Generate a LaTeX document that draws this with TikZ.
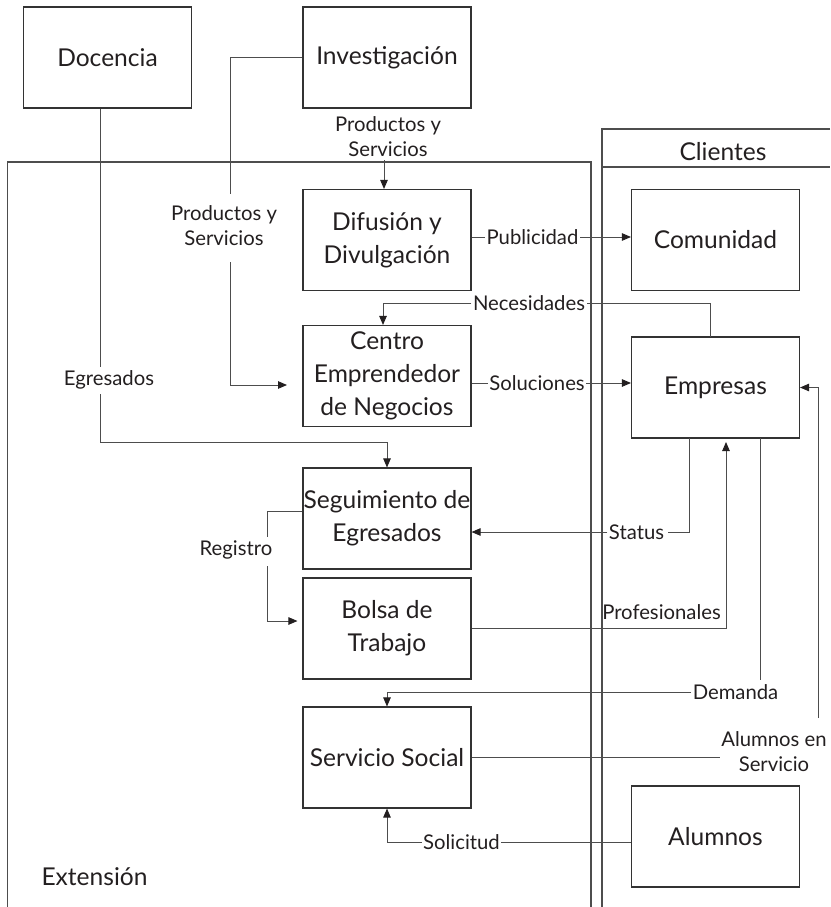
\documentclass[tikz,border=0pt]{standalone}
\usepackage{fontspec}
\setmainfont{Lato}
\usetikzlibrary{arrows.meta}
\definecolor{txtc}{HTML}{231F20}
\definecolor{boxc}{HTML}{333333}
\definecolor{linec}{HTML}{4D4D4D}
\newlength\mywa
\newlength\mywb
\newcommand\bigfont{\fontsize{\bigsz pt}{33pt}\selectfont}
\newcommand\smallfont{\fontsize{\smallsz pt}{25pt}\selectfont}
\begin{document}
\settowidth\mywa{\fontsize{10pt}{12pt}\selectfont Docencia}%
\settowidth\mywb{\fontsize{10pt}{12pt}\selectfont Necesidades}%
\pgfmathsetmacro\bigsz{0.93*1080/\mywa}%
\pgfmathsetmacro\smallsz{1120/\mywb}%
\begin{tikzpicture}[x=1pt,y=-1pt,
  box/.style={draw=boxc, line width=1.1pt, minimum width=168pt, minimum height=101pt, inner sep=0pt, align=center, font=\bigfont, text=txtc},
  lbl/.style={inner sep=1.5pt, align=center, font=\smallfont, text=txtc},
  con/.style={draw=linec, line width=0.9pt},
  arr/.style={con, -{Triangle[length=9pt,width=7.5pt,color=txtc]}},
  frm/.style={draw=linec, line width=1.1pt}]
\useasboundingbox (0,0) rectangle (830,907);
% boxes
\node[box] (doc) at (107.5,57.5) {Docencia};
\node[box] (inv) at (387,57.5) {Investigación};
\node[box] (dif) at (387,240) {Difusión y\\Divulgación};
\node[box] (cen) at (387,376) {Centro\\Emprendedor\\de Negocios};
\node[box] (seg) at (387,518.5) {Seguimiento de\\Egresados};
\node[box] (bol) at (387,628.5) {Bolsa de\\Trabajo};
\node[box] (ser) at (387,757.5) {Servicio Social};
\node[box] (com) at (715.5,240) {Comunidad};
\node[box] (emp) at (715.5,387.5) {Empresas};
\node[box] (alu) at (715.5,836.5) {Alumnos};
% labels
\node[lbl] (ps1) at (388,137) {Productos y\\Servicios};
\node[lbl] (ps2) at (224,226) {Productos y\\Servicios};
\node[lbl] (egr) at (109,380) {Egresados};
\node[lbl] (pub) at (532.5,237) {Publicidad};
\node[lbl] (nec) at (529,303) {Necesidades};
\node[lbl] (sol) at (537,383) {Soluciones};
\node[lbl] (sta) at (636.5,532) {Status};
\node[lbl] (reg) at (236,550) {Registro};
\node[lbl] (pro) at (661.5,612) {Profesionales};
\node[lbl] (dem) at (735.5,692) {Demanda};
\node[lbl] (ase) at (774,752) {Alumnos en\\Servicio};
\node[lbl] (slc) at (461.5,842) {Solicitud};
\node[lbl, font=\bigfont] (cli) at (723,152) {Clientes};
\node[lbl, font=\bigfont] (ext) at (94.5,877) {Extensión};
% coordinates
\coordinate (eg1) at (100,367);
\coordinate (eg2) at (100,394);
\coordinate (p1) at (230,194);
\coordinate (p2) at (230,262);
\coordinate (cenin) at (287,385);
\coordinate (p3) at (384,160);
\coordinate (n1) at (710,337);
\coordinate (s1) at (689,438);
\coordinate (r1) at (267,537);
\coordinate (r2) at (267,566);
\coordinate (pr) at (726,442);
\coordinate (d1) at (760,438);
\coordinate (d2) at (760,680);
\coordinate (a1) at (818,718);
% connectors
\draw[con] (doc.south -| eg1) -- (eg1);
\draw[arr] (eg2) |- ([yshift=25pt]seg.north) -- (seg.north);
\draw[con] (inv.west) -| (p1);
\draw[arr] (p2) |- (cenin);
\draw[arr] (p3) -- (p3 |- dif.north);
\draw[con] (pub.west -| dif.east) -- (pub.west);
\draw[arr] (pub.east) -- (pub.east -| com.west);
\draw[con] (n1) |- (nec.east);
\draw[arr] (nec.west) -| ([xshift=-4pt]cen.north);
\draw[con] (sol.west -| cen.east) -- (sol.west);
\draw[arr] (sol.east) -- (sol.east -| emp.west);
\draw[con] (s1) |- ([xshift=2pt]sta.east);
\draw[arr] (sta.west) -- (sta.west -| seg.east);
\draw[con] ([yshift=7.5pt]seg.west) -| (r1);
\draw[arr] (r2) |- ([xshift=-5pt,yshift=7.5pt]bol.west);
\draw[arr] (bol.east) -| (pr);
\draw[con] (d1) -- (d2);
\draw[arr] (dem.west) -| (ser.north);
\draw[con] (ser.east) -- (ser.east -| ase.west);
\draw[arr] (a1) |- (emp.east);
\draw[con] (slc.east) -- (slc.east -| alu.west);
\draw[arr] (slc.west) -| (ser.south);
% frames
\draw[frm] (7.5,907) -- (7.5,162) -- (591,162) -- (591,907);
\draw[frm] (830,129) -- (602,129) -- (602,907);
\draw[frm] (602,167) -- (830,167);
\end{tikzpicture}
\end{document}
